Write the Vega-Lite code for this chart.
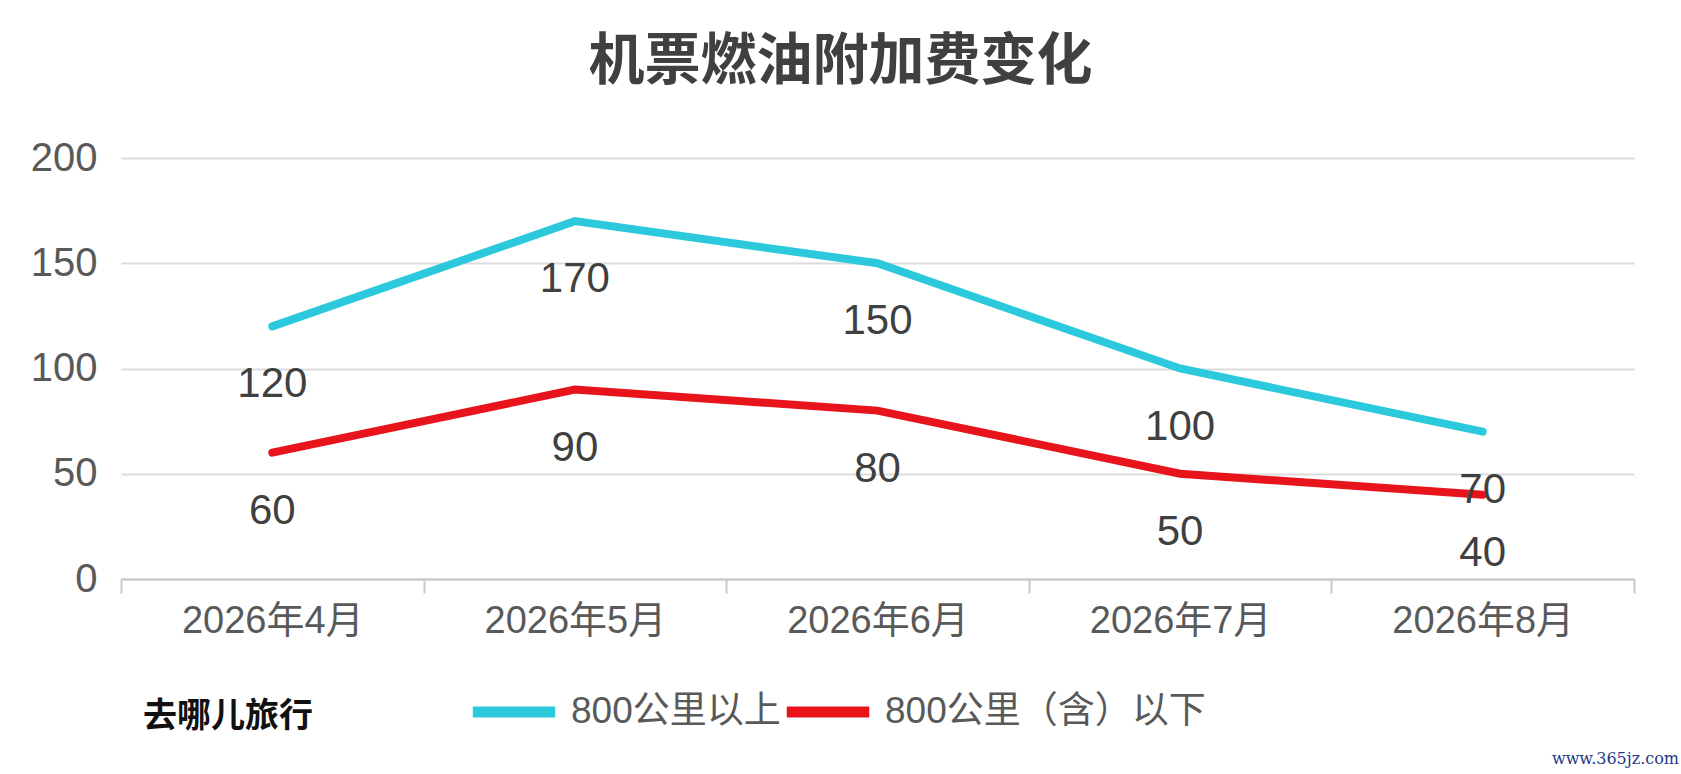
{
  "$schema": "https://vega.github.io/schema/vega-lite/v6.json",
  "autosize": {"type": "none"},
  "padding": {"left": 121, "top": 158, "right": 47, "bottom": 195},
  "width": 1513,
  "height": 421,
  "background": "#ffffff",
  "config": {"view": {"stroke": null}},
  "title": {
    "text": "机票燃油附加费变化",
    "font": "Noto Sans CJK SC",
    "fontSize": 56,
    "fontWeight": "bold",
    "color": "#404040",
    "anchor": "middle",
    "dx": -37,
    "offset": 47
  },
  "data": {
    "values": [
      {"month": "2026年4月", "series": "800公里以上", "value": 120},
      {"month": "2026年5月", "series": "800公里以上", "value": 170},
      {"month": "2026年6月", "series": "800公里以上", "value": 150},
      {"month": "2026年7月", "series": "800公里以上", "value": 100},
      {"month": "2026年8月", "series": "800公里以上", "value": 70},
      {"month": "2026年4月", "series": "800公里（含）以下", "value": 60},
      {"month": "2026年5月", "series": "800公里（含）以下", "value": 90},
      {"month": "2026年6月", "series": "800公里（含）以下", "value": 80},
      {"month": "2026年7月", "series": "800公里（含）以下", "value": 50},
      {"month": "2026年8月", "series": "800公里（含）以下", "value": 40}
    ]
  },
  "encoding": {
    "x": {
      "field": "month",
      "type": "nominal",
      "sort": null,
      "bandPosition": 0.5,
      "scale": {"type": "band", "paddingInner": 0, "paddingOuter": 0},
      "axis": {
        "title": null,
        "labelAngle": 0,
        "labelLimit": 400,
        "labelFont": "Liberation Sans, Noto Sans CJK SC",
        "labelFontSize": 38,
        "labelColor": "#595959",
        "labelPadding": 9,
        "tickBand": "extent",
        "tickSize": 14,
        "tickWidth": 2,
        "tickColor": "#C8C8C8",
        "domainColor": "#C8C8C8",
        "domainWidth": 2,
        "grid": false
      }
    },
    "y": {
      "field": "value",
      "type": "quantitative",
      "scale": {"domain": [0, 200]},
      "axis": {
        "values": [0, 50, 100, 150, 200],
        "domain": false,
        "ticks": false,
        "labelPadding": 24,
        "labelFont": "Liberation Sans",
        "labelFontSize": 40,
        "labelColor": "#595959",
        "gridColor": "#DCDCDC",
        "gridWidth": 2,
        "title": "www.365jz.com",
        "titleAngle": 0,
        "titleX": 1494,
        "titleY": 600,
        "titleAlign": "center",
        "titleBaseline": "middle",
        "titleFont": "DejaVu Serif",
        "titleFontSize": 16,
        "titleFontWeight": "normal",
        "titleColor": "#1F3A88"
      }
    }
  },
  "layer": [
    {
      "mark": {"type": "line", "strokeWidth": 8, "strokeCap": "round"},
      "encoding": {
        "color": {
          "field": "series",
          "type": "nominal",
          "sort": ["800公里以上", "800公里（含）以下"],
          "scale": {
            "domain": ["800公里以上", "800公里（含）以下"],
            "range": ["#2CC9DC", "#E8141B"]
          },
          "legend": {
            "orient": "none",
            "direction": "horizontal",
            "legendX": 22,
            "legendY": 507,
            "padding": 0,
            "title": "去哪儿旅行",
            "titleOrient": "left",
            "titleAnchor": "end",
            "titleLimit": 400,
            "titleFont": "Noto Sans CJK SC",
            "titleFontSize": 34,
            "titleFontWeight": "bold",
            "titleColor": "#111111",
            "titlePadding": 154,
            "titleBaseline": "bottom",
            "symbolType": "stroke",
            "symbolSize": 6800,
            "symbolStrokeWidth": 11,
            "labelFont": "Liberation Sans, Noto Sans CJK SC",
            "labelFontSize": 37,
            "labelColor": "#595959",
            "labelOffset": 10,
            "columnPadding": -18,
            "labelLimit": 400
          }
        }
      }
    },
    {
      "mark": {
        "type": "text",
        "dy": 58,
        "font": "Liberation Sans",
        "fontSize": 42,
        "color": "#404040"
      },
      "encoding": {
        "text": {"field": "value", "type": "quantitative"}
      }
    }
  ]
}
